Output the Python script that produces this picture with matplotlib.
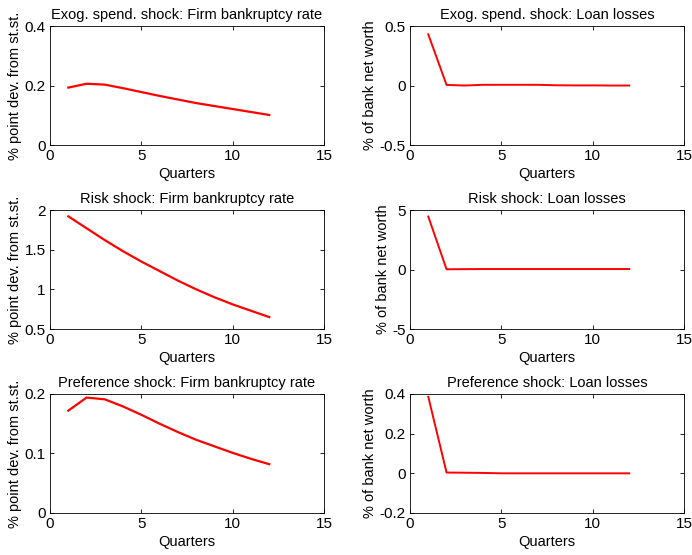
import numpy as np
import matplotlib
matplotlib.use("Agg")
import matplotlib.pyplot as plt

plt.rcParams['font.family'] = ['Liberation Sans', 'DejaVu Sans']

quarters = np.arange(1, 13)

# firm bankruptcy rate, % point deviation from steady state
bankr_spend = [0.193, 0.206, 0.203, 0.191, 0.178, 0.165, 0.153, 0.141, 0.131, 0.121, 0.111, 0.101]
bankr_risk = [1.92, 1.77, 1.62, 1.48, 1.35, 1.23, 1.11, 1.00, 0.90, 0.81, 0.73, 0.65]
bankr_pref = [0.172, 0.194, 0.191, 0.179, 0.165, 0.150, 0.136, 0.123, 0.112, 0.101, 0.091, 0.082]

# loan losses, % of bank net worth
loss_spend = [0.43, 0.005, 0.0, 0.006, 0.006, 0.006, 0.006, 0.002, 0.001, 0.001, 0.0, 0.0]
loss_risk = [4.45, 0.02, 0.03, 0.04, 0.04, 0.04, 0.04, 0.04, 0.04, 0.04, 0.04, 0.04]
loss_pref = [0.386, 0.004, 0.003, 0.002, 0.0, 0.0, 0.0, 0.0, 0.0, 0.0, 0.0, 0.0]

titles_left = ["Exog. spend. shock: Firm bankruptcy rate",
               "Risk shock: Firm bankruptcy rate",
               "Preference shock: Firm bankruptcy rate"]
titles_right = ["Exog. spend. shock: Loan losses",
                "Risk shock: Loan losses",
                "Preference shock: Loan losses"]
ylims_left = [(0, 0.4), (0.5, 2), (0, 0.2)]
yticks_left = [[0, 0.2, 0.4], [0.5, 1, 1.5, 2], [0, 0.1, 0.2]]
ylims_right = [(-0.5, 0.5), (-5, 5), (-0.2, 0.4)]
yticks_right = [[-0.5, 0, 0.5], [-5, 0, 5], [-0.2, 0, 0.2, 0.4]]

fig = plt.figure(figsize=(6.92, 5.55), dpi=100)

row_bottoms = [0.7387, 0.4072, 0.0757]
h = 0.2144
w = 0.396


def style(ax, title, ylabel, ylim, yticks):
    ax.set_xlim(0, 15)
    ax.set_xticks([0, 5, 10, 15])
    ax.set_ylim(*ylim)
    ax.set_yticks(yticks)
    ax.set_yticklabels(['%g' % t for t in yticks])
    ax.tick_params(direction='in', length=3, width=0.6, top=True, right=True,
                   labelsize=11, pad=3)
    for s in ax.spines.values():
        s.set_linewidth(0.6)
    ax.set_title(title, fontsize=10.5, pad=5)
    ax.set_xlabel("Quarters", fontsize=10.5, labelpad=3)
    ax.set_ylabel(ylabel, fontsize=10.5, labelpad=2)


left_data = [bankr_spend, bankr_risk, bankr_pref]
right_data = [loss_spend, loss_risk, loss_pref]

for i in range(3):
    ax = fig.add_axes([0.0723, row_bottoms[i], w, h])
    ax.plot(quarters, left_data[i], color='red', lw=1.6)
    style(ax, titles_left[i], "% point dev. from st.st.", ylims_left[i], yticks_left[i])

    ax = fig.add_axes([0.5925, row_bottoms[i], w, h])
    ax.plot(quarters, right_data[i], color='red', lw=1.4)
    style(ax, titles_right[i], "% of bank net worth", ylims_right[i], yticks_right[i])

fig.savefig("out.png", dpi=100)
